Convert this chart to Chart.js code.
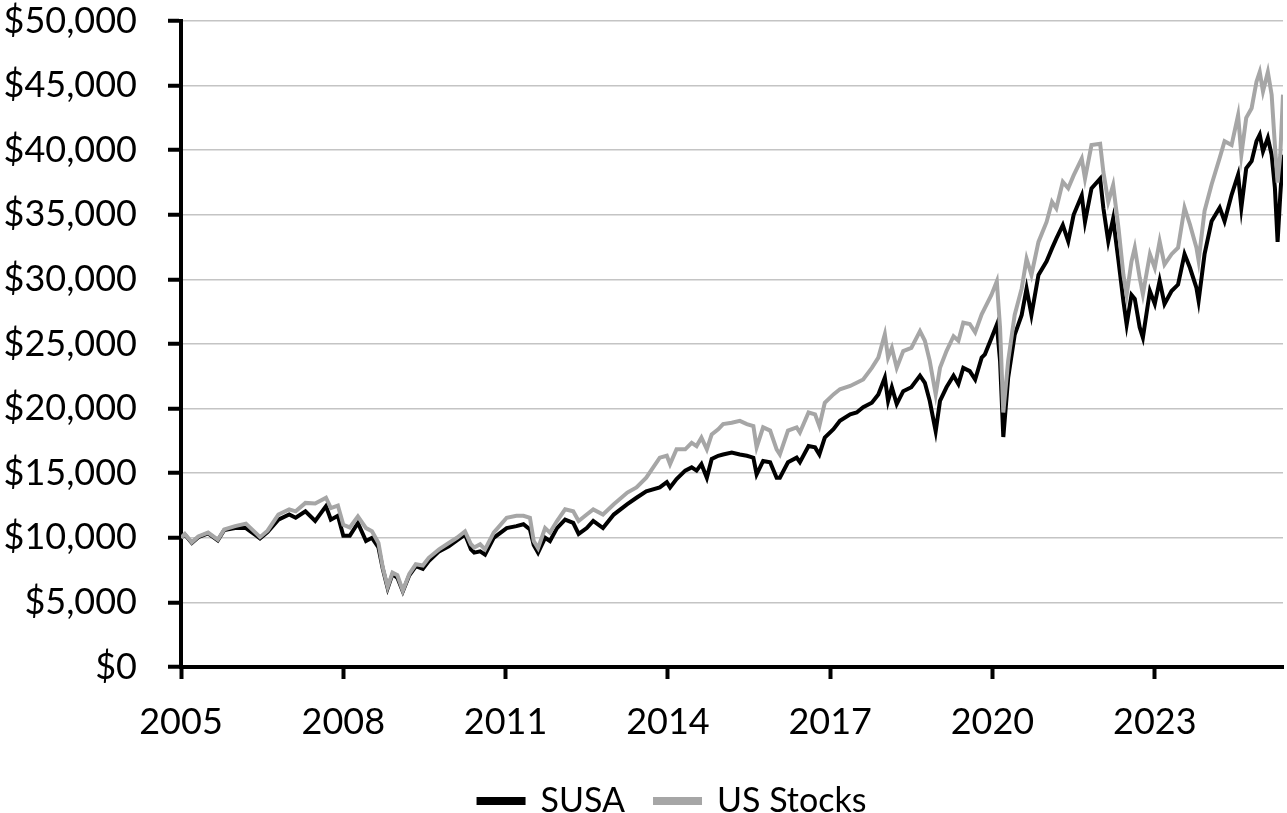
<!DOCTYPE html>
<html>
<head>
<meta charset="utf-8">
<script src="https://cdn.jsdelivr.net/npm/chart.js@4.4.1/dist/chart.umd.min.js"></script>
<style>
  html, body { margin: 0; padding: 0; background: #fff; overflow: hidden; }
  #wrap { position: relative; width: 1287px; height: 813px; overflow: hidden; }
  #inner { position: absolute; left: 0; top: -28px; width: 1287px; height: 841px; }
</style>
</head>
<body>
<div id="wrap"><div id="inner"><canvas id="growth"></canvas></div></div>
<script>
'use strict'

// decimal years of each reading
var years = [
    2005.00, 2005.07, 2005.20, 2005.32, 2005.50, 2005.68, 2005.80, 2006.00, 2006.20, 2006.40,
    2006.46, 2006.60, 2006.80, 2007.00, 2007.12, 2007.30, 2007.48, 2007.68, 2007.77, 2007.90,
    2008.00, 2008.12, 2008.27, 2008.42, 2008.53, 2008.65, 2008.73, 2008.82, 2008.91, 2009.00,
    2009.10, 2009.22, 2009.34, 2009.47, 2009.58, 2009.77, 2009.95, 2010.10, 2010.25, 2010.36,
    2010.42, 2010.53, 2010.62, 2010.78, 2011.02, 2011.20, 2011.33, 2011.45, 2011.52, 2011.60,
    2011.73, 2011.82, 2011.95, 2012.10, 2012.25, 2012.35, 2012.50, 2012.62, 2012.80, 2013.00,
    2013.25, 2013.42, 2013.60, 2013.85, 2013.98, 2014.04, 2014.16, 2014.32, 2014.44, 2014.53,
    2014.62, 2014.72, 2014.81, 2014.93, 2015.02, 2015.18, 2015.33, 2015.46, 2015.58, 2015.64,
    2015.76, 2015.89, 2016.01, 2016.07, 2016.22, 2016.38, 2016.44, 2016.60, 2016.72, 2016.80,
    2016.90, 2017.06, 2017.18, 2017.37, 2017.49, 2017.61, 2017.77, 2017.89, 2018.01, 2018.07,
    2018.14, 2018.23, 2018.35, 2018.50, 2018.66, 2018.75, 2018.84, 2018.95, 2019.03, 2019.15,
    2019.28, 2019.37, 2019.46, 2019.58, 2019.68, 2019.80, 2019.86, 2019.98, 2020.08, 2020.14,
    2020.20, 2020.29, 2020.41, 2020.54, 2020.63, 2020.72, 2020.85, 2021.00, 2021.10, 2021.18,
    2021.30, 2021.40, 2021.50, 2021.65, 2021.71, 2021.83, 2021.99, 2022.05, 2022.14, 2022.23,
    2022.33, 2022.42, 2022.48, 2022.57, 2022.63, 2022.72, 2022.78, 2022.91, 2023.00, 2023.09,
    2023.18, 2023.31, 2023.43, 2023.55, 2023.65, 2023.77, 2023.81, 2023.92, 2024.05, 2024.20,
    2024.29, 2024.42, 2024.54, 2024.60, 2024.69, 2024.79, 2024.88, 2024.94, 2025.00, 2025.09,
    2025.16, 2025.22, 2025.27, 2025.32, 2025.37
];

var susa = [
    10000, 10250, 9600, 10050, 10350, 9800, 10600, 10750, 10750, 10150,
    9950, 10450, 11400, 11800, 11550, 12050, 11300, 12450, 11400, 11700,
    10150, 10150, 11150, 9750, 10000, 9250, 7600, 6100, 7200, 6900,
    5850, 7100, 7800, 7600, 8200, 8950, 9350, 9800, 10250, 9100,
    8850, 8950, 8700, 10000, 10750, 10900, 11050, 10650, 9450, 8850,
    10000, 9750, 10750, 11400, 11150, 10300, 10750, 11300, 10750, 11800,
    12600, 13100, 13600, 13900, 14300, 13900, 14550, 15200, 15450, 15200,
    15700, 14650, 16100, 16350, 16450, 16600, 16450, 16350, 16200, 14900,
    15950, 15850, 14650, 14650, 15850, 16200, 15850, 17100, 17000, 16450,
    17750, 18400, 19050, 19550, 19700, 20100, 20450, 21100, 22400, 20600,
    21650, 20350, 21350, 21650, 22550, 22000, 20600, 18250, 20600, 21650,
    22550, 21900, 23150, 22900, 22250, 23950, 24200, 25450, 26500, 23700,
    17800, 22400, 25700, 27250, 29300, 27250, 30350, 31400, 32400, 33150,
    34200, 32950, 35000, 36500, 34450, 37050, 37800, 35500, 32950, 34700,
    31400, 28300, 26500, 28800, 28500, 26300, 25500, 29100, 28100, 29900,
    28100, 29100, 29600, 31950, 30900, 29350, 28350, 31950, 34500, 35550,
    34500, 36550, 38100, 35550, 38600, 39150, 40700, 41200, 39900, 40950,
    39650, 37100, 32900, 36550, 39650
];

var usStocks = [
    10000, 10300, 9650, 10100, 10400, 9850, 10650, 10900, 11100, 10300,
    10050, 10550, 11800, 12200, 12050, 12700, 12650, 13100, 12300, 12500,
    11000, 10800, 11650, 10750, 10500, 9600, 7700, 6200, 7300, 7100,
    5900, 7200, 7950, 7850, 8450, 9100, 9600, 10000, 10500, 9500,
    9250, 9500, 9100, 10400, 11550, 11700, 11700, 11550, 9750, 9200,
    10750, 10400, 11300, 12200, 12050, 11300, 11800, 12200, 11800, 12600,
    13500, 13900, 14650, 16200, 16350, 15700, 16850, 16850, 17350, 17100,
    17750, 16850, 18000, 18400, 18800, 18900, 19050, 18800, 18650, 17000,
    18550, 18300, 16850, 16450, 18300, 18550, 18150, 19700, 19550, 18650,
    20450, 21100, 21500, 21750, 22000, 22250, 23150, 23950, 25750, 23950,
    24700, 23150, 24450, 24700, 26000, 25250, 23700, 21100, 23150, 24450,
    25600, 25250, 26650, 26550, 25900, 27300, 27800, 28800, 29850, 26250,
    19700, 23700, 27250, 29300, 31600, 30350, 32900, 34450, 36000, 35500,
    37550, 37050, 38050, 39350, 37800, 40400, 40500, 38300, 36000, 37300,
    33950, 30350, 28800, 31400, 32450, 30150, 28850, 31950, 30900, 32950,
    31150, 31950, 32450, 35550, 34250, 32450, 31450, 35300, 37350, 39400,
    40700, 40400, 42700, 39650, 42500, 43250, 45300, 46050, 44550, 46050,
    44300, 40400, 37500, 39650, 44300
];

var xTicks = [2005, 2008, 2011, 2014, 2017, 2020, 2023];

var toPoints = function (vals) {
    return vals.map(function (v, i) {
        return { x: years[i], y: v };
    });
};

var fontName = 'Lato, "DejaVu Sans", sans-serif';

/* nudge the legend so it sits under the plot like the original */
var legendShift = {
    id: 'legendShift',
    afterLayout: function (chart) {
        if (chart.legend) {
            chart.legend.left += 31;
            chart.legend.right += 31;
        }
    }
};

var ctx = document.getElementById('growth').getContext('2d');
var growthChart = new Chart(ctx, {
    type: 'line',
    data: {
        datasets: [{
            label: 'SUSA',
            data: toPoints(susa),
            borderColor: '#000000',
            backgroundColor: '#000000',
            borderWidth: 4,
            pointRadius: 0,
            tension: 0,
            order: 2,
        }, {
            label: 'US Stocks',
            data: toPoints(usStocks),
            borderColor: '#a6a6a6',
            backgroundColor: '#a6a6a6',
            borderWidth: 4,
            pointRadius: 0,
            tension: 0,
            order: 1,
        }]
    },
    plugins: [legendShift],
    options: {
        responsive: true,
        maintainAspectRatio: false,
        animation: false,
        layout: {
            padding: { top: -9, right: 4, left: 0, bottom: -15 },
        },
        plugins: {
            legend: {
                display: true,
                position: 'bottom',
                labels: {
                    boxWidth: 45,
                    boxHeight: 4,
                    padding: 30,
                    color: '#000',
                    font: { family: fontName, size: 34 },
                    sort: function (a, b) { return a.datasetIndex - b.datasetIndex; },
                },
            },
            tooltip: { enabled: false },
        },
        scales: {
            x: {
                type: 'linear',
                min: 2005,
                max: 2025.37,
                afterBuildTicks: function (scale) {
                    scale.ticks = xTicks.map(function (v) { return { value: v }; });
                },
                afterFit: function (scale) { scale.height = 87; },
                border: { color: '#000', width: 4 },
                grid: {
                    drawOnChartArea: false,
                    tickColor: '#000',
                    tickWidth: 4,
                    tickLength: 12,
                },
                ticks: {
                    color: '#000',
                    padding: 25,
                    maxRotation: 0,
                    font: { family: fontName, size: 36, lineHeight: 1 },
                    callback: function (v) { return String(v); },
                },
            },
            y: {
                min: 0,
                max: 50000,
                afterFit: function (scale) { scale.width = 181; },
                border: { color: '#000', width: 4 },
                grid: {
                    color: '#c4c4c4',
                    lineWidth: 1.5,
                    tickColor: '#000',
                    tickWidth: 4,
                    tickLength: 13,
                },
                ticks: {
                    stepSize: 5000,
                    color: '#000',
                    padding: 31,
                    font: { family: fontName, size: 36, lineHeight: 1 },
                    callback: function (v) { return '$' + v.toLocaleString('en-US'); },
                },
            },
        },
    },
});
</script>
</body>
</html>
